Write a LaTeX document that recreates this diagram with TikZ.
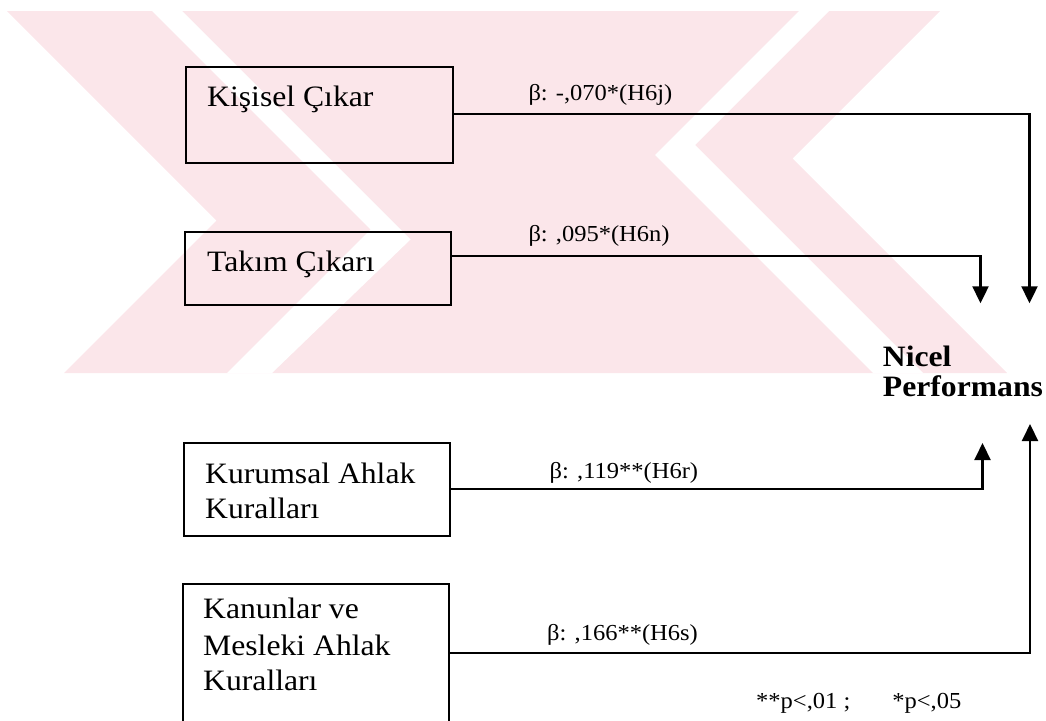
\documentclass[tikz,border=0pt]{standalone}
\usepackage{fontspec}
\setmainfont{Liberation Serif}[FakeStretch=1.07]
\usetikzlibrary{arrows.meta}
\definecolor{wm}{RGB}{251,230,234}
\tikzset{
  box/.style={draw, line width=2.1pt, inner sep=0pt, anchor=north west},
  lab/.style={inner sep=0pt, anchor=base west, font=\fontsize{22.9}{27}\selectfont},
  txt/.style={inner sep=0pt, anchor=base west, font=\fontsize{29.6}{36}\selectfont},
  btxt/.style={inner sep=0pt, anchor=base west, font=\fontsize{29.6}{36}\selectfont\bfseries},
  conn/.style={line width=2.1pt, -{Triangle[length=17pt,width=16pt]}},
}
\begin{document}
\begin{tikzpicture}[x=1pt,y=-1pt]
\useasboundingbox (0,0) rectangle (1046,720);
\clip (0,0) rectangle (1046,720);
% watermark
\fill[wm] (7,11) -- (940,11) -- (792.5,158.5) -- (1007,373) -- (64,373)
  -- (216.5,220.5) -- cycle;
\fill[white] (152,11) -- (370.5,229.5) -- (227,373) -- (272,373)
  -- (410.5,239.5) -- (182,11) -- cycle;
\fill[white] (829,11) -- (695,145) -- (923,373) -- (873,373)
  -- (655,155) -- (799,11) -- cycle;
% boxes
\node[box, minimum width=266.5pt, minimum height=96.3pt] (b1) at (185,65.7) {};
\node[box, minimum width=266pt, minimum height=73pt] (b2) at (184,231) {};
\node[box, minimum width=266.5pt, minimum height=93.3pt] (b3) at (182.5,441.7) {};
\node[box, minimum width=265.5pt, minimum height=180pt] (b4) at (182,582.7) {};
% box texts
\node[txt] (t1) at (207,106.7) {Kişisel Çıkar};
\node[txt] (t2) at (207,271.7) {Takım Çıkarı};
\node[txt] (t3a) at (205,483) {Kurumsal Ahlak};
\node[txt] (t3b) at (205,518) {Kuralları};
\node[txt] (t4a) at (203,618.3) {Kanunlar ve};
\node[txt] (t4b) at (203,655.7) {Mesleki Ahlak};
\node[txt] (t4c) at (203,690.7) {Kuralları};
% target
\node[btxt] (np1) at (882.7,366) {Nicel};
\node[btxt] (np2) at (882.7,396.7) {Performans};
% arrow tips
\coordinate (e1) at (1029.5,303.3);
\coordinate (e2) at (980.5,303.3);
\coordinate (e3) at (982.5,443);
\coordinate (e4) at (1030,424);
% connectors
\draw[conn] ([yshift=0.7pt]b1.east) -| (e1);
\draw[conn] ([yshift=-24.7pt]b2.north east) -| (e2);
\draw[conn] (b3.east) -| (e3);
\draw[conn] ([yshift=-70pt]b4.north east) -| (e4);
% labels
\node[lab] (l1) at (528.3,100) {β: -,070*(H6j)};
\node[lab] (l2) at (528.3,241.7) {β: ,095*(H6n)};
\node[lab] (l3) at (549.5,478) {β: ,119**(H6r)};
\node[lab] (l4) at (547,640) {β: ,166**(H6s)};
\node[lab] (note) at (756,708) {**p<,01 ;\hspace{42pt}*p<,05};
\end{tikzpicture}
\end{document}
